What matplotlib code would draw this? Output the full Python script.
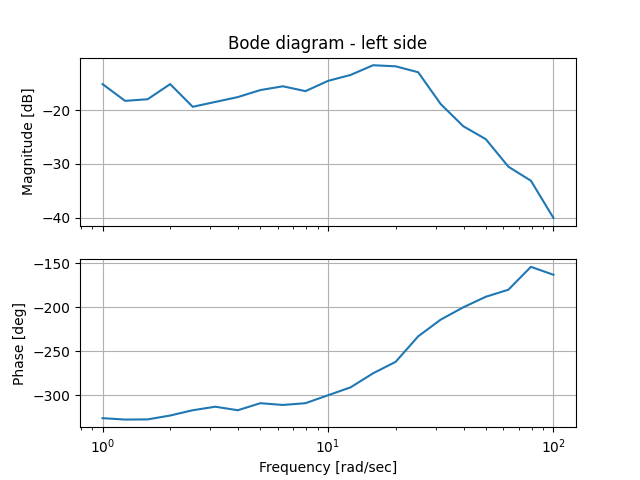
import matplotlib
matplotlib.use("Agg")
import matplotlib.pyplot as plt

# --- Data ---
freq = [1.0, 1.259, 1.585, 1.995, 2.512, 3.162, 3.981, 5.012, 6.310, 7.943,
        10.0, 12.59, 15.85, 19.95, 25.12, 31.62, 39.81, 50.12, 63.10, 79.43, 100.0]
mag_db = [-15.2, -18.3, -18.0, -15.2, -19.4, -18.5, -17.6, -16.3, -15.6, -16.5,
          -14.6, -13.5, -11.7, -11.9, -13.0, -18.9, -23.0, -25.4, -30.5, -33.1, -40.0]
phase_deg = [-326, -327.6, -327.4, -323, -317, -313, -317, -309, -311, -309,
             -300, -291, -275, -262, -233, -214, -200, -188, -180, -154, -163]

fig, (ax1, ax2) = plt.subplots(2, 1, sharex=True)

ax1.semilogx(freq, mag_db)
ax1.set_title("Bode diagram - left side")
ax1.set_ylabel("Magnitude [dB]")
ax1.grid(True)

ax2.semilogx(freq, phase_deg)
ax2.set_ylabel("Phase [deg]")
ax2.set_xlabel("Frequency [rad/sec]")
ax2.grid(True)

fig.savefig("out.png", dpi=100)
